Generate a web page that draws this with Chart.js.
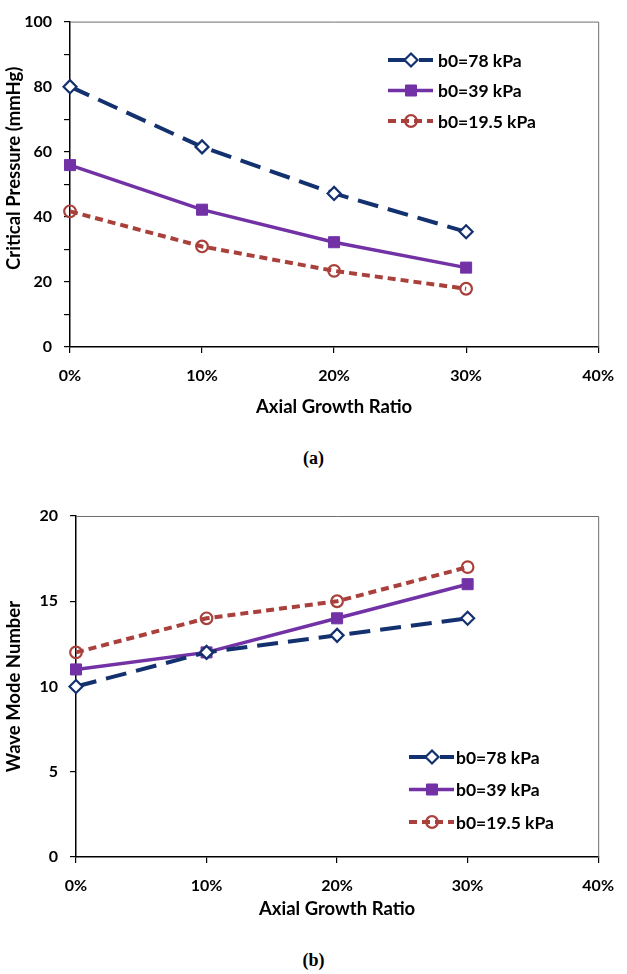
<!DOCTYPE html>
<html><head><meta charset="utf-8">
<script src="https://cdn.jsdelivr.net/npm/chart.js@4/dist/chart.umd.min.js"></script>
<style>
html,body{margin:0;padding:0;background:#fff;width:627px;height:974px;overflow:hidden}
#wa{position:absolute;left:0;top:0;width:627px;height:430px}
#wb{position:absolute;left:0;top:490px;width:627px;height:440px}
.cap{position:absolute;left:0;width:627px;text-align:center;font:bold 18px "Liberation Serif";line-height:20px}
</style></head><body>
<div id="wa"><canvas id="ca" width="627" height="430"></canvas></div>
<div class="cap" style="top:448px">(a)</div>
<div id="wb"><canvas id="cb" width="627" height="440"></canvas></div>
<div class="cap" style="top:950px">(b)</div>
<script>
// ---- data ----
const growth = [0, 0.1, 0.2, 0.3];
const xTickLabels = ['0%', '10%', '20%', '30%', '40%'];
const seriesNames = ['b0=78 kPa', 'b0=39 kPa', 'b0=19.5 kPa'];
const pressure78 = [80, 61.5, 47.2, 35.4];
const pressure39 = [55.9, 42.2, 32.2, 24.4];
const pressure195 = [41.7, 30.9, 23.4, 17.9];
const mode78 = [10, 12, 13, 14];
const mode39 = [11, 12, 14, 16];
const mode195 = [12, 14, 15, 17];
const yLabelsA = [0, 20, 40, 60, 80, 100];
const yLabelsB = [0, 5, 10, 15, 20];

// ---- styles ----
const NAVY = '#13306f', PURPLE = '#7232a6', RED = '#a9403b';
const styles = [
  {borderColor: NAVY, borderWidth: 4, borderDash: [21, 10], pointStyle: 'rectRot', pointRadius: 6.5, pointBackgroundColor: '#fff', pointBorderColor: NAVY, pointBorderWidth: 2.2},
  {borderColor: PURPLE, borderWidth: 3.5, borderDash: [], pointStyle: 'rect', pointRadius: 7.8, pointBackgroundColor: PURPLE, pointBorderColor: PURPLE, pointBorderWidth: 1},
  {borderColor: RED, borderWidth: 4, borderDash: [8, 5], pointStyle: 'circle', pointRadius: 5.8, pointBackgroundColor: 'rgba(255,255,255,0)', pointBorderColor: RED, pointBorderWidth: 2.2}
];

function makeDatasets(seriesList) {
  return seriesList.map((vals, i) => Object.assign({
    label: seriesNames[i],
    data: growth.map((g, j) => ({x: g, y: vals[j]})),
    fill: false, tension: 0, clip: false,
    pointHoverRadius: styles[i].pointRadius
  }, styles[i]));
}

const FONT = 'Lato';

const framePlugin = {
  id: 'frame',
  beforeDatasetsDraw(chart) {
    const a = chart.chartArea, ctx = chart.ctx;
    ctx.save();
    ctx.strokeStyle = '#6e6e6e';
    ctx.lineWidth = 1;
    ctx.beginPath();
    ctx.moveTo(a.left, a.top + 0.5);
    ctx.lineTo(a.right + 0.5, a.top + 0.5);
    ctx.lineTo(a.right + 0.5, a.bottom);
    ctx.stroke();
    ctx.restore();
  }
};

// y-axis title drawn with an optional vertical offset from the axis centre
const yTitlePlugin = {
  id: 'yTitle',
  afterDraw(chart, args, opts) {
    const a = chart.chartArea, ctx = chart.ctx;
    ctx.save();
    ctx.translate(opts.x, (a.top + a.bottom) / 2 + opts.shift);
    ctx.rotate(-Math.PI / 2);
    ctx.fillStyle = '#000';
    ctx.font = 'bold 18.5px ' + FONT;
    ctx.textAlign = 'center';
    ctx.textBaseline = 'middle';
    ctx.fillText(opts.text, 0, 0);
    ctx.restore();
  }
};

function drawMarker(ctx, ds, x, y) {
  const r = ds.pointRadius;
  ctx.save();
  ctx.setLineDash([]);
  ctx.lineWidth = ds.pointBorderWidth;
  ctx.strokeStyle = ds.pointBorderColor;
  ctx.fillStyle = ds.pointBackgroundColor;
  ctx.beginPath();
  if (ds.pointStyle === 'rectRot') {
    ctx.moveTo(x, y - r); ctx.lineTo(x + r, y); ctx.lineTo(x, y + r); ctx.lineTo(x - r, y); ctx.closePath();
  } else if (ds.pointStyle === 'rect') {
    const s = r * Math.SQRT1_2;
    ctx.rect(x - s, y - s, 2 * s, 2 * s);
  } else {
    ctx.arc(x, y, r, 0, Math.PI * 2);
  }
  ctx.fill(); ctx.stroke();
  ctx.restore();
}

const legendPlugin = {
  id: 'lineLegend',
  afterDatasetsDraw(chart, args, opts) {
    const ctx = chart.ctx;
    chart.data.datasets.forEach((ds, i) => {
      const y = opts.y0 + i * opts.dy;
      const x0 = opts.x0;
      ctx.save();
      ctx.strokeStyle = ds.borderColor;
      ctx.lineWidth = ds.borderWidth;
      ctx.setLineDash(ds.borderDash || []);
      ctx.beginPath();
      ctx.moveTo(x0, y); ctx.lineTo(x0 + 45, y);
      ctx.stroke();
      ctx.restore();
      drawMarker(ctx, ds, x0 + 23, y);
      ctx.save();
      ctx.fillStyle = '#000';
      ctx.font = 'bold 17.5px ' + FONT;
      ctx.textBaseline = 'middle';
      ctx.textAlign = 'left';
      ctx.fillText(ds.label, opts.textX, y + 1);
      ctx.restore();
    });
  }
};

function makeChart(id, datasets, cfg) {
  return new Chart(document.getElementById(id), {
    type: 'line',
    data: {datasets},
    plugins: [framePlugin, legendPlugin, yTitlePlugin],
    options: {
      responsive: false, devicePixelRatio: 1, animation: false,
      layout: {padding: cfg.padding},
      plugins: {
        legend: {display: false}, tooltip: {enabled: false},
        lineLegend: cfg.legend,
        yTitle: {text: cfg.yTitle, x: 14, shift: cfg.yTitleShift}
      },
      scales: {
        x: {
          type: 'linear', min: 0, max: 0.4,
          afterFit: s => { s.height = cfg.xHeight; },
          afterBuildTicks: s => { s.ticks = xTickLabels.map((t, i) => ({value: i * 0.1})); },
          ticks: {
            callback: (v, i) => xTickLabels[i],
            color: '#000', padding: cfg.xTickPad,
            font: {family: FONT, weight: 'bold', size: 16},
            maxRotation: 0, autoSkip: false
          },
          grid: {drawOnChartArea: false, drawTicks: true, tickLength: 6, color: '#000', lineWidth: 1.2},
          border: {color: '#000', width: 1.5},
          title: {display: true, text: 'Axial Growth Ratio', color: '#000',
            font: {family: FONT, weight: 'bold', size: 18.5}, padding: {top: 0, bottom: cfg.xTitlePad}}
        },
        y: {
          min: 0, max: cfg.yMax,
          afterFit: s => { s.width = cfg.yWidth; },
          ticks: {
            stepSize: cfg.yStep,
            callback: v => (cfg.yLabels.includes(v) ? String(v) : ''),
            color: '#000', padding: 12,
            font: {family: FONT, weight: 'bold', size: 16},
            autoSkip: false
          },
          grid: {drawOnChartArea: false, drawTicks: true, tickLength: 6, color: '#000', lineWidth: 1.2},
          border: {color: '#000', width: 1.5},
          title: {display: false}
        }
      }
    }
  });
}

makeChart('ca', makeDatasets([pressure78, pressure39, pressure195]), {
  padding: {left: 0, top: 12, right: 23, bottom: 0},
  xHeight: 83, xTickPad: 13, xTitlePad: 12,
  yWidth: 70, yMax: 100, yStep: 10, yLabels: yLabelsA,
  yTitle: 'Critical Pressure (mmHg)', yTitleShift: -16,
  legend: {x0: 388, y0: 60, dy: 30.5, textX: 438}
});

makeChart('cb', makeDatasets([mode78, mode39, mode195]), {
  padding: {left: 0, top: 26, right: 18, bottom: 0},
  xHeight: 73, xTickPad: 13, xTitlePad: 10,
  yWidth: 76, yMax: 20, yStep: 5, yLabels: yLabelsB,
  yTitle: 'Wave Mode Number', yTitleShift: 0,
  legend: {x0: 409, y0: 267, dy: 32.5, textX: 456}
});
</script>
</body></html>
